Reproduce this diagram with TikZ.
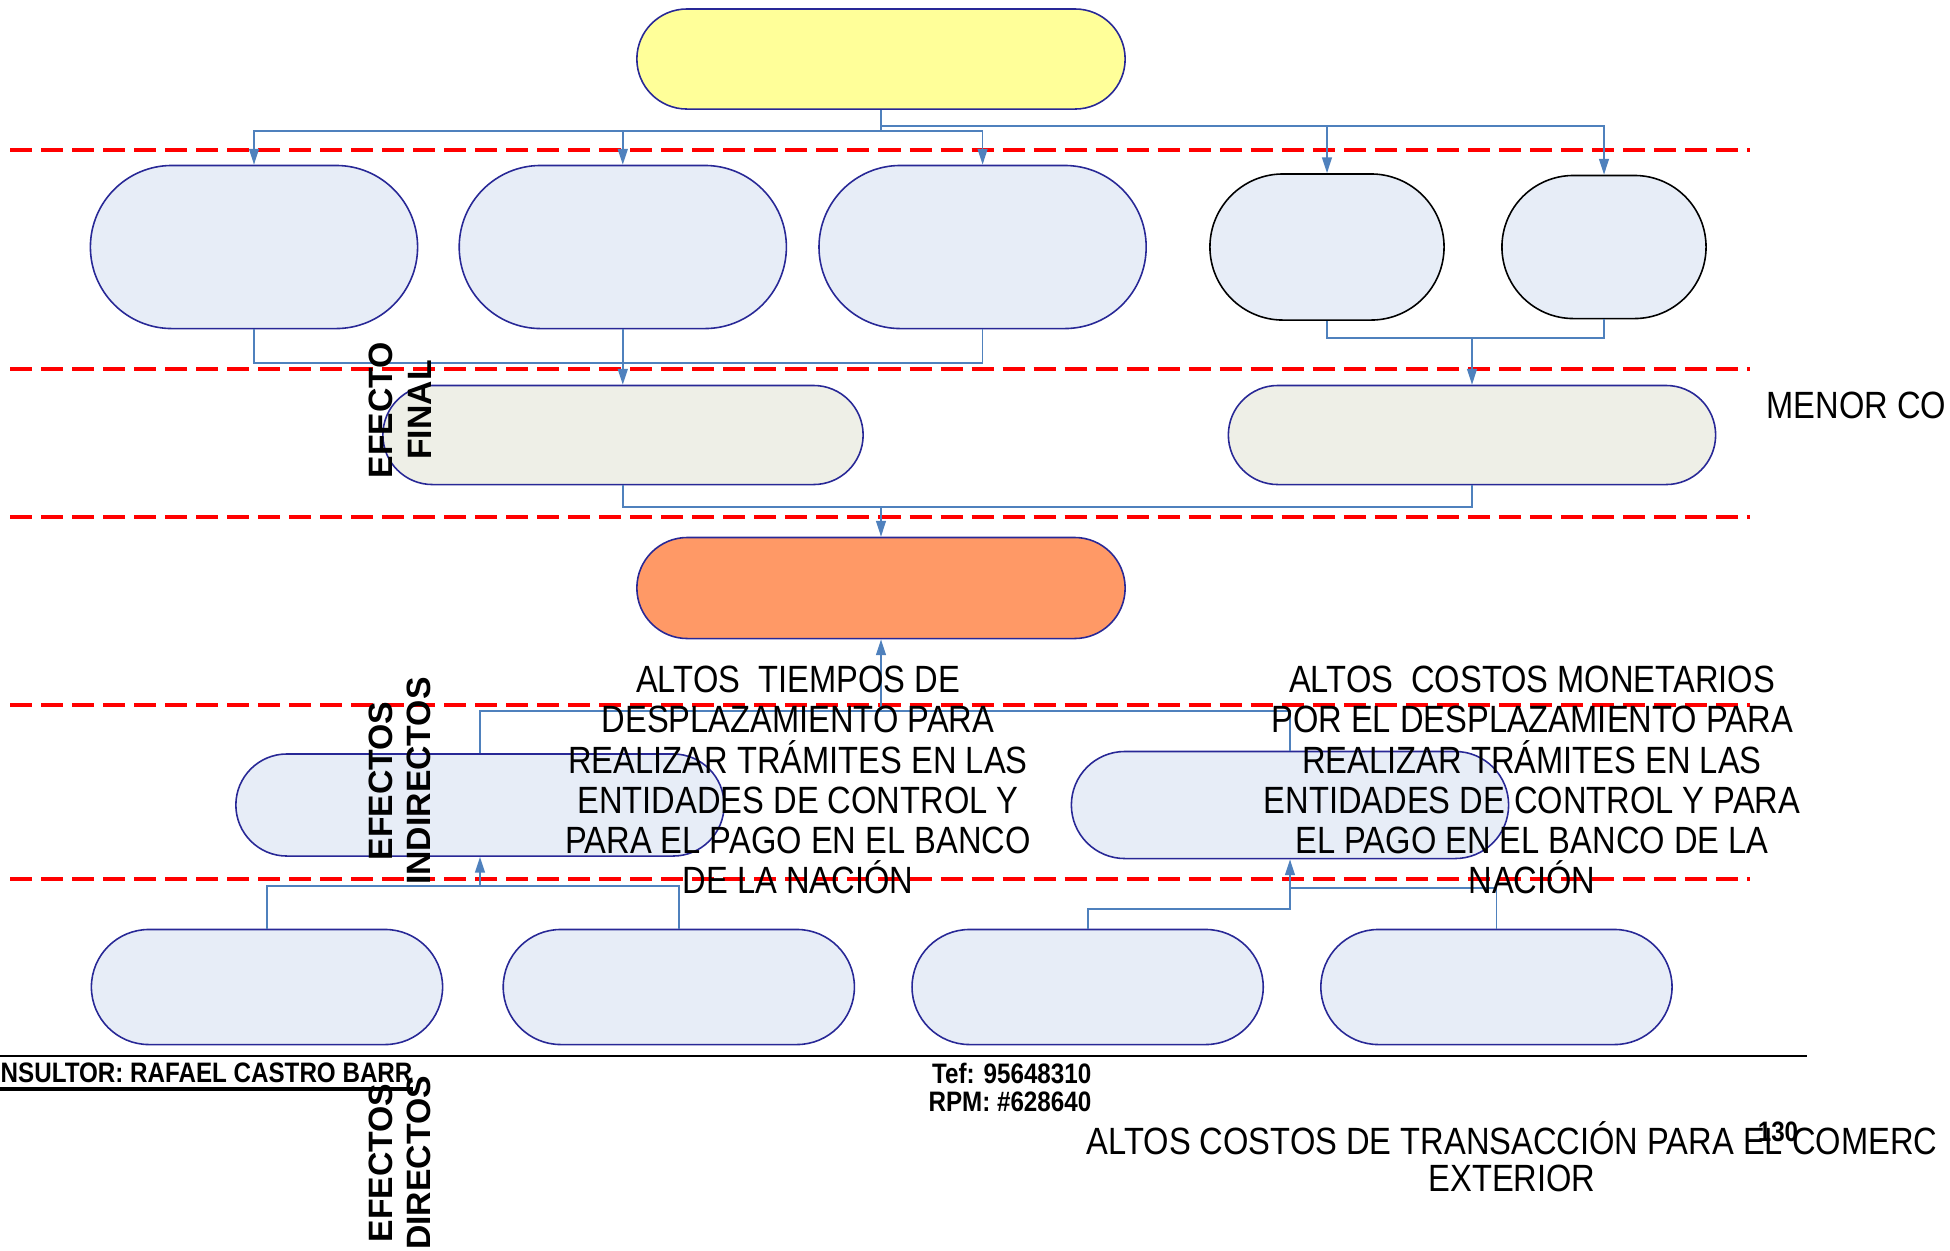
\documentclass[tikz,border=0pt]{standalone}
\usepackage{fontspec}
\setmainfont{Liberation Sans}
\newfontfamily\narrowfont[FakeStretch=0.86]{Liberation Sans}
\usetikzlibrary{arrows.meta,positioning,shapes.misc}

\definecolor{linkblue}{RGB}{79,129,189}
\definecolor{boxnavy}{RGB}{40,40,150}
\definecolor{paleblue}{RGB}{231,237,247}
\definecolor{palegray}{RGB}{238,239,231}
\definecolor{paleyellow}{RGB}{255,255,153}
\definecolor{softorange}{RGB}{255,153,102}

\begin{document}
\begin{tikzpicture}[
			x=0.01cm, y=-0.01cm,
			effbox/.style={rounded rectangle, draw=boxnavy, line width=0.45pt, fill=paleblue, inner sep=0pt},
			finbox/.style={effbox, fill=palegray},
			wire/.style={draw=linkblue, line width=0.5pt},
			link/.style={wire, -{Triangle[length=4.5pt, width=2.8pt]}},
			cut/.style={draw=red, line width=0.9pt, dash pattern=on 0.22cm off 0.09cm},
			bigtext/.style={font=\narrowfont\fontsize{10.8}{11.4}\selectfont, align=center, inner sep=0pt},
			sidetext/.style={font=\bfseries\fontsize{9.6}{11}\selectfont, align=center, rotate=90, inner sep=0pt},
			foottext/.style={font=\narrowfont\bfseries\fontsize{8}{8}\selectfont, inner sep=0pt},
		]
			\useasboundingbox (0,0) rectangle (1950,1250);

			% dashed separators
			\foreach \yy in {150,369,517,705,879}
				\draw[cut] (10,\yy) -- (1750,\yy);

			\node[effbox, fill=paleyellow, minimum width=4.88cm, minimum height=1cm] (goal) at (881,59) {};

			\node[effbox, minimum width=3.27cm, minimum height=1.63cm] (efA) at (254,247) {};
			\node[effbox, minimum width=3.27cm, minimum height=1.63cm, right=0.40cm of efA] (efB) {};
			\node[effbox, minimum width=3.27cm, minimum height=1.63cm, right=0.31cm of efB] (efC) {};
			\node[effbox, draw=black, minimum width=2.34cm, minimum height=1.46cm] (efD) at (1327,247) {};
			\node[effbox, draw=black, minimum width=2.04cm, minimum height=1.43cm] (efE) at (1604,247) {};

			\node[finbox, minimum width=4.80cm, minimum height=0.99cm] (fin1) at (623,435) {};
			\node[finbox, minimum width=4.87cm, minimum height=0.99cm] (fin2) at (1472,435) {};

			\node[effbox, fill=softorange, minimum width=4.88cm, minimum height=1.01cm] (problem) at (881,588) {};

			\node[effbox, minimum width=4.88cm, minimum height=1.02cm] (ind1) at (480,805) {};
			\node[effbox, minimum width=4.37cm, minimum height=1.07cm] (ind2) at (1290,805) {};

			\node[effbox, minimum width=3.51cm, minimum height=1.15cm] (dir1) at (267,987) {};
			\node[effbox, minimum width=3.51cm, minimum height=1.15cm, right=0.59cm of dir1] (dir2) {};
			\node[effbox, minimum width=3.51cm, minimum height=1.15cm, right=0.56cm of dir2] (dir3) {};
			\node[effbox, minimum width=3.51cm, minimum height=1.15cm, right=0.56cm of dir3] (dir4) {};

			% connectors
			\coordinate (hubL) at (881,131);
			\coordinate (hubR) at (881,126);
			\draw[link] (goal.south) -- (hubL) -| (efA.north);
			\draw[link] (hubL) -| (efB.north);
			\draw[link] (hubL) -| (efC.north);
			\draw[link] (hubR) -| (efD.north);
			\draw[link] (hubR) -| (efE.north);

			\coordinate (hubF) at (efB.south |- 0,363);
			\draw[wire] (efA.south) |- (hubF);
			\draw[wire] (efC.south) |- (hubF);
			\draw[link] (efB.south) -- (efB.south |- fin1.north);

			\coordinate (hubG) at (1472,338);
			\draw[wire] (efD.south) |- (hubG);
			\draw[wire] (efE.south) |- (hubG);
			\draw[link] (hubG) -- (fin2.north);

			\coordinate (hubP) at (881,507);
			\draw[wire] (efB.south |- fin1.south) |- (hubP);
			\draw[wire] (fin2.south) |- (hubP);
			\draw[link] (hubP) -- (problem.north);

			\coordinate (hubQ) at (881,711);
			\draw[wire] (ind1.north) |- (hubQ);
			\draw[wire] (ind2.north) |- (hubQ);
			\draw[link] (hubQ) -- (problem.south);

			\coordinate (hubH) at (480,886);
			\draw[wire] (dir1.north) |- (hubH);
			\draw[wire] (dir2.north) |- (hubH);
			\draw[link] (hubH) -- (ind1.south);

			\coordinate (hubI) at (1290,888);
			\draw[wire] (dir3.north) -- ++(0,-20) -| (hubI);
			\draw[wire] (dir4.north) |- (hubI);
			\draw[link] (hubI) -- (ind2.south);

			% row labels
			\node[sidetext] (lblFinal) at (400,410) {EFECTO\\FINAL};
			\node[sidetext] (lblIndirect) at (400,781) {EFECTOS\\INDIRECTOS};
			\node[sidetext] (lblDirect) at (400,1163) {EFECTOS\\DIRECTOS};

			\node[bigtext] (txtTime) at (798,780) {ALTOS\ \ TIEMPOS DE\\DESPLAZAMIENTO PARA\\REALIZAR TRÁMITES EN LAS\\ENTIDADES DE CONTROL Y\\PARA EL PAGO EN EL BANCO\\DE LA NACIÓN};
			\node[bigtext] (txtMoney) at (1532,780) {ALTOS\ \ COSTOS MONETARIOS\\POR EL DESPLAZAMIENTO PARA\\REALIZAR TRÁMITES EN LAS\\ENTIDADES DE CONTROL Y PARA\\EL PAGO EN EL BANCO DE LA\\NACIÓN};
			\node[bigtext, anchor=west] (txtLess) at (1766,405) {MENOR CO};
			\node[bigtext, font=\narrowfont\fontsize{10.8}{10.5}\selectfont] (txtTrans) at (1512,1157) {ALTOS COSTOS DE TRANSACCIÓN PARA EL COMERC\\EXTERIOR};

			% footer
			\draw[line width=0.8pt] (0,1056) -- (1807,1056);
			\node[foottext, anchor=west] (consultant) at (0,1073) {NSULTOR: RAFAEL CASTRO BARR};
			\draw[line width=0.9pt] ([yshift=-1.5pt]consultant.south west) -- ([yshift=-1.5pt]consultant.south east);
			\node[foottext, align=right, anchor=east] (phone) at (1092,1087) {Tef: 95648310\\RPM: \#628640};
			\node[foottext] (page) at (1778,1132) {130};
		\end{tikzpicture}
\end{document}
